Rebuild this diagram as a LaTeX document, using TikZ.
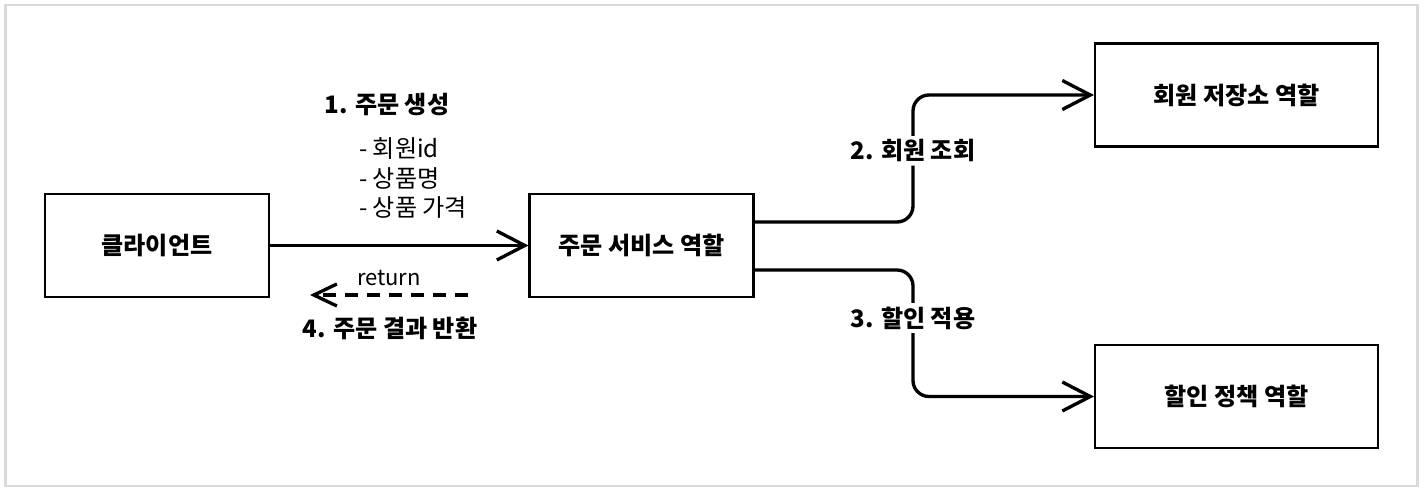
\documentclass[tikz,border=0pt]{standalone}
\usepackage{fontspec}
\setmainfont{Noto Sans CJK KR}
\usetikzlibrary{arrows.meta, positioning, calc}

\begin{document}
\begin{tikzpicture}[>={Straight Barb[length=5.6mm,width=5.8mm]},
    font=\fontsize{13.7}{17}\selectfont,
    role/.style={draw, line width=1.2pt, minimum width=4.48cm, minimum height=2.06cm,
                 font=\fontsize{13.7}{17}\selectfont\bfseries},
    flow/.style={->, line width=1.9pt, rounded corners=0.32cm},
    note/.style={inner sep=2pt, font=\fontsize{13.7}{17}\selectfont\bfseries},
    lbl/.style={note, fill=white}]

\useasboundingbox (0,0) rectangle (28.48,9.92);
\draw[black!15, line width=1.7pt] (0.11,0.2) rectangle (28.34,9.82);

% ---- Roles -------------------------------------------------------------
\node[role] (client) at (3.14,5.01) {클라이언트};
\node[role] (order) at (12.83,5.01) {주문 서비스 역할};
\node[role, minimum width=5.66cm] (repo) at (24.73,8.02) {회원 저장소 역할};
\node[role, minimum width=5.66cm] (policy) at (24.73,1.99) {할인 정책 역할};

% ---- Order request / result -------------------------------------------
\draw[flow] (client) -- (order);
\node[note] (create) at (7.74,7.82) {1. 주문 생성};
\node[align=left] (items) at (8.26,6.36) {- 회원id\\- 상품명\\- 상품 가격};

\coordinate (ret-from) at (9.36,4.02);
\coordinate (ret-to) at (6.2,4.02);
\draw[->, line width=1.9pt, dash pattern=on 7.5pt off 5pt,
      >={Straight Barb[length=4.6mm,width=4.4mm]}] (ret-from) -- (ret-to);
\node[font=\fontsize{12.5}{15}\selectfont] (ret) at (7.78,4.36) {return};
\node[note] (result) at (7.8,3.36) {4. 주문 결과 반환};

% ---- Calls to the other roles ------------------------------------------
\coordinate (split) at (18.26,0);
\coordinate (o-up) at ([yshift=0.47cm]order.east);
\coordinate (o-down) at ([yshift=-0.49cm]order.east);
\draw[flow] (o-up) -- (o-up -| split) |- node[lbl, pos=0.28] {2. 회원 조회} (repo.west);
\draw[flow] (o-down) -- (o-down -| split) |- node[lbl, pos=0.19] {3. 할인 적용} (policy.west);

\end{tikzpicture}
\end{document}
